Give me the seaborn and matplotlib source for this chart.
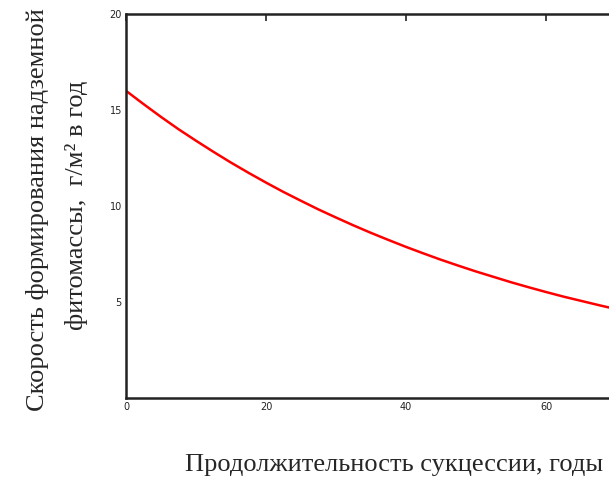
import numpy as np
import pandas as pd
import seaborn as sns
import matplotlib.pyplot as plt

# values every 2.5 years
years = [0, 2.5, 5, 7.5, 10, 12.5, 15, 17.5, 20, 22.5, 25, 27.5, 30, 32.5, 35,
         37.5, 40, 42.5, 45, 47.5, 50, 52.5, 55, 57.5, 60, 62.5, 65, 67.5, 70]
rate = [16.0, 15.31, 14.64, 14.0, 13.4, 12.82, 12.26, 11.73, 11.22, 10.73, 10.27,
        9.82, 9.4, 8.99, 8.6, 8.23, 7.87, 7.53, 7.2, 6.89, 6.59, 6.31, 6.03, 5.77,
        5.52, 5.28, 5.06, 4.84, 4.63]
x_ticks = [0, 20, 40, 60]
y_ticks = [5, 10, 15, 20]

xlabel = "Продолжительность сукцессии, годы"
ylabel_1 = "Скорость формирования надземной"
ylabel_2 = "фитомассы,  г/м² в год"

sns.set_style("white")
plt.rcParams['font.family'] = ['DejaVu Sans']

df = pd.DataFrame({"years": years, "rate": rate})

fig = plt.figure(figsize=(6.09, 4.83), dpi=100)
W, H = 609, 483
# plot area runs past the right edge of the image, like in the original
ax = fig.add_axes([126 / W, 1 - 398 / H, 490 / W, 384 / H])

sns.lineplot(data=df, x="years", y="rate", color="#ff0000", linewidth=1.8, ax=ax)

ax.set_xlim(0, 70)
ax.set_ylim(0, 20)
ax.set_xticks(x_ticks)
ax.set_yticks(y_ticks)
ax.tick_params(direction="in", length=5, width=1.2, labelsize=7, colors="#222222",
               top=True, right=True, pad=3)
for s in ax.spines.values():
    s.set_linewidth(1.8)
    s.set_color("#222222")
ax.set_xlabel("")
ax.set_ylabel("")

serif = ['Liberation Serif', 'DejaVu Serif']
fig.text(394 / W, 1 - 465 / H, xlabel, ha="center", va="center", fontsize=19, family=serif)
fig.text(38 / W, 1 - 210 / H, ylabel_1, ha="center", va="center", rotation=90,
         fontsize=19, family=serif)
fig.text(77 / W, 1 - 205 / H, ylabel_2, ha="center", va="center", rotation=90,
         fontsize=19, family=serif)

fig.savefig("out.png", dpi=100)
